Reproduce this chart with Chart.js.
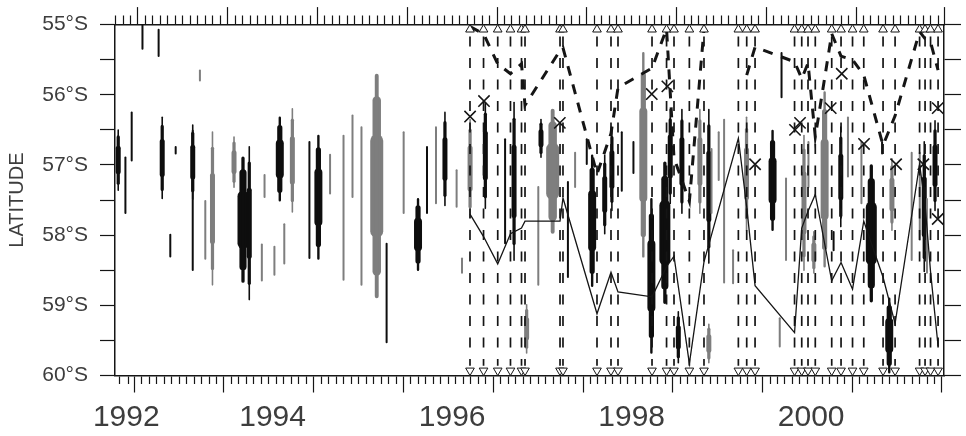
<!DOCTYPE html>
<html><head><meta charset="utf-8">
<script src="https://cdn.jsdelivr.net/npm/chart.js@4.4.0/dist/chart.umd.min.js"></script>
<style>html,body{margin:0;padding:0;background:#fff}</style>
</head><body>
<canvas id="c" width="966" height="436"></canvas>
<script>
// ---------- DATA ----------
const yearLabels = ['1992', '1994', '1996', '1998', '2000'];
const yearLabelAt = [1992.87, 1994.5, 1996.5, 1998.5, 2000.5];
const latValues = [55, 56, 57, 58, 59, 60];
const latLabels = ['55°S', '56°S', '57°S', '58°S', '59°S', '60°S'];

const cruiseDates = [1996.699, 1996.850, 1997.008, 1997.150, 1997.273, 1997.312, 1997.702, 1997.735,
  1998.114, 1998.270, 1998.348, 1998.727, 1998.889, 1998.972, 1999.143, 1999.306, 1999.689, 1999.782,
  1999.875, 2000.315, 2000.395, 2000.465, 2000.546, 2000.729, 2000.833, 2000.961, 2001.086, 2001.301,
  2001.435, 2001.708, 2001.769, 2001.830, 2001.914];

const upperLat = [55.03, 55.13, 55.56, 55.70, 55.56, 56.15, 55.37, 55.33,
  57.13, 56.55, 55.90, 55.62, 55.06, 56.90, 57.52, 55.06, null, 55.72,
  55.32, 55.53, 55.77, 55.55, 56.60, 55.13, 55.45, 55.50, 55.72, 56.72,
  56.30, 55.10, 55.20, 55.25, 55.65];

const lowerLat = [57.70, 58.02, 58.41, 57.98, 57.90, 57.80, 57.80, 57.47,
  59.12, 58.53, 58.81, 58.88, 58.45, 58.30, 59.83, 58.38, 56.62, 57.60,
  58.72, 59.39, 57.90, 57.66, 57.42, 58.65, 58.39, 58.77, 57.80, 58.60,
  59.26, 56.99, 57.56, 58.52, 59.58];

const crossYears = [1996.70, 1996.855, 1997.70, 1998.724, 1998.898, 1999.875, 2000.32, 2000.376,
  2000.718, 2000.841, 2001.089, 2001.446, 2001.75, 2001.91, 2001.91];
const crossLat = [56.31, 56.09, 56.40, 55.99, 55.88, 56.99, 56.50, 56.40,
  56.19, 55.70, 56.70, 56.99, 56.99, 56.19, 57.77];

// patches: [year, northern edge, southern edge]
const blackThin = [[1993.05,55.0,55.36],[1993.23,55.06,55.46],[1992.86,56.88,57.70],[1992.93,56.24,56.95],
  [1993.42,56.73,56.85],[1993.61,56.5,58.51],[1993.36,57.98,58.32],[1994.91,56.66,58.34],[1995.77,58.11,59.54],
  [1996.22,56.73,57.70],[1997.09,56.62,58.13],[1997.79,57.23,58.61],[1998.00,56.62,57.0],[1998.39,56.52,57.38],
  [1998.52,56.66,57.13],[2000.17,55.39,56.05],[2000.75,57.94,58.23],[2001.29,56.66,56.85]];
const blackMid = [[1992.78,56.49,57.37],[1993.27,56.31,57.49],[1993.61,56.42,57.5],[1994.24,56.73,58.93],
  [1996.42,56.24,57.59],[1996.87,56.1,57.63],[1997.19,56.1,58.37],[1997.49,56.34,56.9],[1998.20,56.85,57.99],
  [1998.28,56.47,57.66],[1998.93,56.2,57.56],[1999.02,59.08,59.83],[1999.06,56.2,57.7],[1999.36,56.2,58.41],
  [2000.83,56.45,57.89],[2001.76,56.66,58.53],[2001.88,56.36,57.66]];
const blackWide = [[1994.58,56.31,57.52],[1995.01,56.57,58.35],[1996.12,57.47,58.51],[1998.06,56.85,58.74],
  [1998.72,57.47,59.69],[2000.07,56.5,57.94],[2001.37,58.89,59.97]];
const blackXWide = [[1994.17,56.88,58.68],[1998.87,56.95,58.98],[2001.17,56.99,58.96]];

const grayThin = [[1993.69,55.64,55.81],[1993.75,57.5,58.35],[1994.41,57.13,57.47],[1994.38,58.12,58.66],
  [1994.52,58.15,58.58],[1994.63,57.83,58.42],[1995.14,56.84,57.42],[1995.29,56.57,58.65],[1995.39,56.28,57.47],
  [1995.49,56.45,58.72],[1995.96,56.52,57.7],[1996.32,56.45,57.56],[1996.55,57.06,57.61],[1996.61,58.32,58.55],
  [1997.46,57.3,58.72],[1997.87,56.81,57.33],[1999.39,56.76,57.7],[1999.47,56.52,57.23],[1999.53,56.34,58.69],
  [1999.63,58.2,58.7],[2000.15,59.17,59.6],[2000.22,57.18,58.37],[2000.47,56.66,57.33],[2000.91,56.31,57.18],
  [2001.06,56.66,57.56],[2001.62,56.81,58.37],[2001.71,56.81,58.08],[2001.79,57.47,58.55]];
const grayMid = [[1993.83,56.52,58.72],[1994.07,56.59,57.33],[1994.72,56.19,57.68],[1996.70,56.34,57.76],
  [1997.33,58.98,59.69],[1999.26,56.2,57.7],[1999.36,59.26,59.83],[1999.78,56.31,57.94],[2000.42,56.57,58.51],
  [2000.53,57.94,58.55],[2001.40,56.9,57.94]];
const grayWide = [[1998.63,55.39,58.32],[2000.65,55.95,58.46]];
const grayXWide = [[1995.66,55.7,58.9],[1997.62,56.2,57.98]];

// ---------- CHART ----------
const X_MIN = 1992.744, X_MAX = 2001.98;
const DASH_TOP = 55.17, DASH_BOTTOM = 59.86, TRI_TOP = 55.07, TRI_BOTTOM = 59.93;
const FONT = '"Liberation Sans", Arial, Helvetica, sans-serif';
const INK = '#151515', TEXT = '#3d3d3d';
const GRAY = '#7e7e7e', BLACK = '#0e0e0e';

function monthTicks() {
  const t = [];
  for (let m = 0; ; m++) { const v = (23913 + m) / 12; if (v > X_MAX + 1e-6) break; t.push(v); }
  t.push(X_MAX);
  return t;
}
const tickVal = c => (c && c.tick && typeof c.tick.value === 'number') ? c.tick.value : NaN;
const isMajor = v => Math.abs(v - Math.round(v)) < 1e-6 || Math.abs(v - X_MAX) < 1e-6;
const labelIndex = v => yearLabelAt.findIndex(p => Math.abs(p - v) < 1e-6);
const isLabelOnly = v => Math.abs(yearLabelAt[0] - v) < 1e-6;

function xTicks(scale, withLabels) {
  let vals = monthTicks();
  if (withLabels) vals = vals.concat([yearLabelAt[0]]);
  vals.sort((a, b) => a - b);
  scale.ticks = vals.map(v => ({ value: v }));
}
function yTicks(scale) {
  const t = [];
  for (let i = 0; i < latValues.length; i++) {
    t.push({ value: latValues[i] });
    if (i < latValues.length - 1) t.push({ value: latValues[i] + 0.5 });
  }
  scale.ticks = t;
}

// each patch drawn as nested floating bars (narrow over full span, wider towards the middle) -> spindle look
function blobSets(list, color, T) {
  const layers = T <= 2.5 ? [[0, T]] : [[0, Math.max(1.6, T * 0.3)], [0.1, T * 0.65], [0.27, T]];
  return layers.map(([f, w]) => ({
    type: 'bar',
    data: list.map(([x, a, b]) => ({ x, y: [a + f * (b - a), b - f * (b - a)] })),
    backgroundColor: color, barThickness: w, grouped: false, borderSkipped: false,
    borderRadius: w / 2, inflateAmount: 0, order: 10
  }));
}

const vLines = [];
cruiseDates.forEach(d => { vLines.push({ x: d, y: DASH_TOP }, { x: d, y: DASH_BOTTOM }, { x: d, y: null }); });

const datasets = [
  ...blobSets(grayThin, GRAY, 2), ...blobSets(grayMid, GRAY, 5),
  ...blobSets(grayWide, GRAY, 8), ...blobSets(grayXWide, GRAY, 13),
  ...blobSets(blackThin, BLACK, 2), ...blobSets(blackMid, BLACK, 5),
  ...blobSets(blackWide, BLACK, 8), ...blobSets(blackXWide, BLACK, 11),
  { type: 'line', data: vLines, borderColor: INK, borderWidth: 1.7, borderDash: [10, 11.5], pointRadius: 0,
    fill: false, tension: 0, spanGaps: false, order: 5 },
  { type: 'line', data: cruiseDates.map((x, i) => ({ x, y: lowerLat[i] })), borderColor: INK, borderWidth: 1.3,
    pointRadius: 0, fill: false, tension: 0, spanGaps: false, order: 3 },
  { type: 'line', data: cruiseDates.map((x, i) => ({ x, y: upperLat[i] })), borderColor: INK, borderWidth: 3,
    borderDash: [10, 9], pointRadius: 0, fill: false, tension: 0, spanGaps: false, order: 2 },
  { type: 'scatter', data: crossYears.map((x, i) => ({ x, y: crossLat[i] })), pointStyle: 'crossRot',
    pointRadius: 8, pointBorderColor: INK, pointBorderWidth: 1.6, order: 1 },
  { type: 'scatter', data: cruiseDates.map(x => ({ x, y: TRI_TOP })), pointStyle: 'triangle', pointRadius: 5,
    pointBackgroundColor: '#fff', pointBorderColor: INK, pointBorderWidth: 1, order: 0 },
  { type: 'scatter', data: cruiseDates.map(x => ({ x, y: TRI_BOTTOM })), pointStyle: 'triangle', rotation: 180,
    pointRadius: 5, pointBackgroundColor: '#fff', pointBorderColor: INK, pointBorderWidth: 1, order: 0 }
];

Chart.defaults.font.family = FONT;

new Chart(document.getElementById('c'), {
  type: 'scatter',
  data: { datasets },
  options: {
    responsive: false, animation: false, events: [],
    layout: { padding: 0 },
    plugins: { legend: { display: false }, tooltip: { enabled: false } },
    scales: {
      x: {
        type: 'linear', position: 'bottom', min: X_MIN, max: X_MAX, offset: false,
        afterBuildTicks: s => xTicks(s, true),
        ticks: { autoSkip: false, maxRotation: 0, minRotation: 0, padding: 7, color: TEXT,
          font: { size: 30 }, callback: v => { const i = labelIndex(v); return i >= 0 ? yearLabels[i] : ''; } },
        grid: { drawOnChartArea: false, drawTicks: true, tickLength: 17, tickWidth: 1.2,
          tickColor: c => isLabelOnly(tickVal(c)) ? 'rgba(0,0,0,0)' : INK,
          tickBorderDash: c => { const v = tickVal(c); return (isNaN(v) || isMajor(v)) ? [] : [7.5, 40]; } },
        border: { display: true, color: INK, width: 1.5 },
        afterFit: s => { s.height = 60.5; }
      },
      xTop: {
        type: 'linear', position: 'top', min: X_MIN, max: X_MAX, offset: false,
        afterBuildTicks: s => xTicks(s, false),
        ticks: { autoSkip: false, maxRotation: 0, display: true, callback: () => '' },
        grid: { drawOnChartArea: false, drawTicks: true, tickLength: 17.5, tickWidth: 1.2, tickColor: INK,
          tickBorderDash: c => { const v = tickVal(c); return (isNaN(v) || isMajor(v)) ? [] : [0, 8.5, 10, 50]; } },
        border: { display: true, color: INK, width: 1.5 },
        afterFit: s => { s.height = 22.7; }
      },
      y: {
        type: 'linear', position: 'left', min: 55, max: 60, reverse: true,
        afterBuildTicks: yTicks,
        ticks: { autoSkip: false, padding: 12, color: TEXT, font: { size: 21 },
          callback: v => { const i = latValues.indexOf(v); return i >= 0 ? latLabels[i] : ''; } },
        grid: { drawOnChartArea: false, tickLength: 15, tickWidth: 1.2, tickColor: INK },
        border: { display: true, color: INK, width: 1.5 },
        title: { display: true, text: 'LATITUDE', color: TEXT, font: { size: 20 }, padding: { top: 5.5, bottom: 0 } },
        afterFit: s => { s.width = 115; }
      },
      yRight: {
        type: 'linear', position: 'right', min: 55, max: 60, reverse: true,
        afterBuildTicks: yTicks,
        ticks: { autoSkip: false, callback: () => '' },
        grid: { drawOnChartArea: false, tickLength: 17, tickWidth: 1.2, tickColor: INK },
        border: { display: true, color: INK, width: 1.5 },
        afterFit: s => { s.width = 22; }
      }
    }
  }
});
</script>
</body></html>
